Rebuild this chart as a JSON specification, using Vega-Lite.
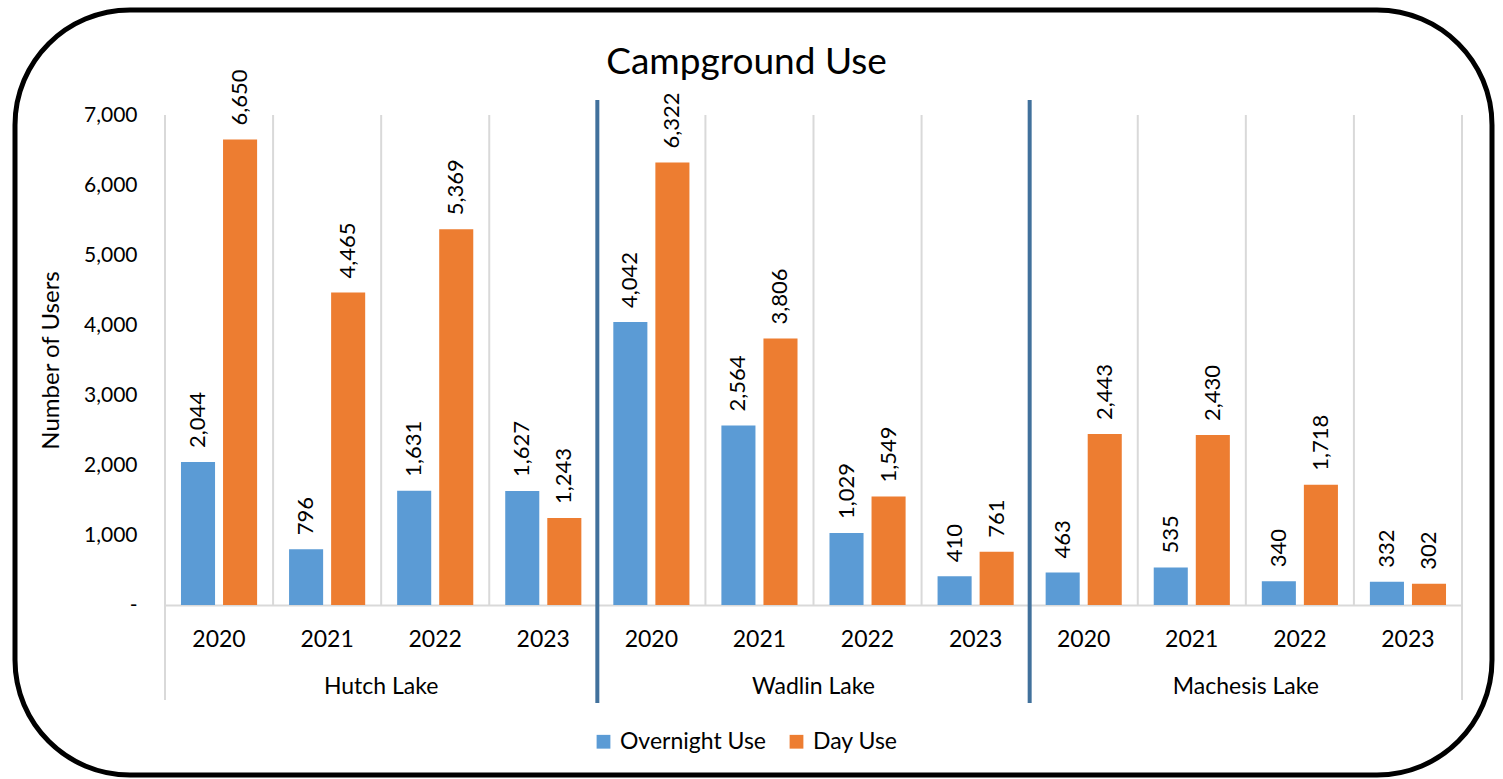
{
  "$schema": "https://vega.github.io/schema/vega-lite/v6.json",
  "width": 1477,
  "height": 765,
  "autosize": {"type": "none"},
  "padding": {"left": 15, "top": 10, "right": 11, "bottom": 4},
  "background": "white",
  "config": {
    "view": {"stroke": "#000000", "strokeWidth": 5, "cornerRadius": 115},
    "font": "Lato",
    "axis": {"labelColor": "#000000", "titleColor": "#000000", "labelFont": "Lato", "titleFont": "Lato"}
  },
  "title": {"text": "Campground Use", "fontSize": 37, "fontWeight": "normal", "font": "Lato", "color": "#000000", "offset": -72, "dx": -7},
  "datasets": {
    "uses": [
      {"key": "Hutch Lake|2020", "lake": "Hutch Lake", "year": "2020", "series": "Overnight Use", "value": 2044},
      {"key": "Hutch Lake|2020", "lake": "Hutch Lake", "year": "2020", "series": "Day Use", "value": 6650},
      {"key": "Hutch Lake|2021", "lake": "Hutch Lake", "year": "2021", "series": "Overnight Use", "value": 796},
      {"key": "Hutch Lake|2021", "lake": "Hutch Lake", "year": "2021", "series": "Day Use", "value": 4465},
      {"key": "Hutch Lake|2022", "lake": "Hutch Lake", "year": "2022", "series": "Overnight Use", "value": 1631},
      {"key": "Hutch Lake|2022", "lake": "Hutch Lake", "year": "2022", "series": "Day Use", "value": 5369},
      {"key": "Hutch Lake|2023", "lake": "Hutch Lake", "year": "2023", "series": "Overnight Use", "value": 1627},
      {"key": "Hutch Lake|2023", "lake": "Hutch Lake", "year": "2023", "series": "Day Use", "value": 1243},
      {"key": "Wadlin Lake|2020", "lake": "Wadlin Lake", "year": "2020", "series": "Overnight Use", "value": 4042},
      {"key": "Wadlin Lake|2020", "lake": "Wadlin Lake", "year": "2020", "series": "Day Use", "value": 6322},
      {"key": "Wadlin Lake|2021", "lake": "Wadlin Lake", "year": "2021", "series": "Overnight Use", "value": 2564},
      {"key": "Wadlin Lake|2021", "lake": "Wadlin Lake", "year": "2021", "series": "Day Use", "value": 3806},
      {"key": "Wadlin Lake|2022", "lake": "Wadlin Lake", "year": "2022", "series": "Overnight Use", "value": 1029},
      {"key": "Wadlin Lake|2022", "lake": "Wadlin Lake", "year": "2022", "series": "Day Use", "value": 1549},
      {"key": "Wadlin Lake|2023", "lake": "Wadlin Lake", "year": "2023", "series": "Overnight Use", "value": 410},
      {"key": "Wadlin Lake|2023", "lake": "Wadlin Lake", "year": "2023", "series": "Day Use", "value": 761},
      {"key": "Machesis Lake|2020", "lake": "Machesis Lake", "year": "2020", "series": "Overnight Use", "value": 463},
      {"key": "Machesis Lake|2020", "lake": "Machesis Lake", "year": "2020", "series": "Day Use", "value": 2443},
      {"key": "Machesis Lake|2021", "lake": "Machesis Lake", "year": "2021", "series": "Overnight Use", "value": 535},
      {"key": "Machesis Lake|2021", "lake": "Machesis Lake", "year": "2021", "series": "Day Use", "value": 2430},
      {"key": "Machesis Lake|2022", "lake": "Machesis Lake", "year": "2022", "series": "Overnight Use", "value": 340},
      {"key": "Machesis Lake|2022", "lake": "Machesis Lake", "year": "2022", "series": "Day Use", "value": 1718},
      {"key": "Machesis Lake|2023", "lake": "Machesis Lake", "year": "2023", "series": "Overnight Use", "value": 332},
      {"key": "Machesis Lake|2023", "lake": "Machesis Lake", "year": "2023", "series": "Day Use", "value": 302}
    ]
  },
  "data": {"name": "uses"},
  "layer": [
    {
      "mark": {"type": "bar"},
      "encoding": {
        "x": {
          "field": "key", "type": "nominal",
          "scale": {
            "domain": ["Hutch Lake|2020", "Hutch Lake|2021", "Hutch Lake|2022", "Hutch Lake|2023", "Wadlin Lake|2020", "Wadlin Lake|2021", "Wadlin Lake|2022", "Wadlin Lake|2023", "Machesis Lake|2020", "Machesis Lake|2021", "Machesis Lake|2022", "Machesis Lake|2023"],
            "range": [150, 1447], "paddingInner": 0, "paddingOuter": 0
          },
          "axis": {
            "title": null, "orient": "bottom", "offset": -170,
            "labelExpr": "split(datum.label, '|')[1]",
            "labelAngle": 0, "labelFontSize": 23, "labelPadding": 23,
            "ticks": false, "tickSize": 0, "grid": false,
            "domain": true, "domainColor": "#D9D9D9", "domainWidth": 2
          }
        },
        "xOffset": {
          "field": "series", "type": "nominal",
          "scale": {"domain": ["Overnight Use", "Day Use"], "paddingInner": 0.19, "paddingOuter": 0.38}
        },
        "y": {
          "field": "value", "type": "quantitative",
          "scale": {"domain": [0, 7000], "range": [595, 105], "nice": false, "zero": false},
          "axis": {
            "title": "Number of Users", "titleFontSize": 24, "titleFontWeight": "normal", "titlePadding": 20,
            "orient": "left", "offset": -150,
            "values": [0, 1000, 2000, 3000, 4000, 5000, 6000, 7000],
            "labelExpr": "datum.value == 0 ? '-\u00a0\u00a0\u00a0' : format(datum.value, ',')",
            "labelFontSize": 21, "labelPadding": 28,
            "ticks": false, "tickSize": 0, "grid": false, "domain": false
          }
        },
        "color": {
          "field": "series", "type": "nominal",
          "scale": {"domain": ["Overnight Use", "Day Use"], "range": ["#5B9BD5", "#ED7D31"]},
          "legend": {
            "title": null, "orient": "none", "legendX": 577, "legendY": 720,
            "direction": "horizontal", "symbolType": "square", "symbolSize": 190,
            "symbolStrokeWidth": 0, "labelFontSize": 23, "labelColor": "#000000",
            "labelOffset": 5, "columnPadding": 18
          }
        }
      }
    },
    {
      "mark": {"type": "text", "angle": 270, "align": "left", "baseline": "middle", "dx": 14, "fontSize": 22, "color": "#000000"},
      "encoding": {
        "x": {"field": "key", "type": "nominal"},
        "xOffset": {"field": "series", "type": "nominal"},
        "y": {"field": "value", "type": "quantitative"},
        "text": {"field": "value", "type": "quantitative", "format": ","}
      }
    },
    {
      "transform": [{"filter": "datum.series == 'Overnight Use' && datum.year != '2020'"}],
      "mark": {"type": "rule", "color": "#D9D9D9", "strokeWidth": 2},
      "encoding": {
        "x": {"field": "key", "type": "nominal", "bandPosition": 0},
        "y": {"datum": 0, "type": "quantitative"},
        "y2": {"datum": 7000}
      }
    },
    {
      "transform": [{"filter": "datum.series == 'Overnight Use' && datum.key == 'Hutch Lake|2020'"}],
      "mark": {"type": "rule", "color": "#D9D9D9", "strokeWidth": 2},
      "encoding": {
        "x": {"field": "key", "type": "nominal", "bandPosition": 0},
        "y": {"datum": -1357, "type": "quantitative"},
        "y2": {"datum": 7000}
      }
    },
    {
      "transform": [{"filter": "datum.series == 'Overnight Use' && datum.key == 'Machesis Lake|2023'"}],
      "mark": {"type": "rule", "color": "#D9D9D9", "strokeWidth": 2},
      "encoding": {
        "x": {"field": "key", "type": "nominal", "bandPosition": 1},
        "y": {"datum": -1357, "type": "quantitative"},
        "y2": {"datum": 7000}
      }
    },
    {
      "transform": [{"filter": "datum.series == 'Overnight Use' && datum.year == '2020' && datum.lake != 'Hutch Lake'"}],
      "mark": {"type": "rule", "color": "#41719C", "strokeWidth": 4},
      "encoding": {
        "x": {"field": "key", "type": "nominal", "bandPosition": 0},
        "y": {"datum": -1400, "type": "quantitative"},
        "y2": {"datum": 7214}
      }
    },
    {
      "transform": [{"filter": "datum.series == 'Overnight Use' && datum.year == '2021'"}],
      "mark": {"type": "text", "align": "center", "baseline": "middle", "dy": 82, "fontSize": 23, "color": "#000000"},
      "encoding": {
        "x": {"field": "key", "type": "nominal", "bandPosition": 1},
        "y": {"datum": 0, "type": "quantitative"},
        "text": {"field": "lake", "type": "nominal"}
      }
    }
  ]
}
